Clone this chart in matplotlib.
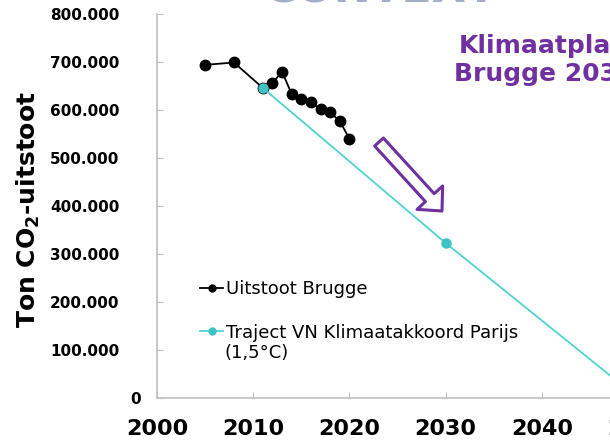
import matplotlib
matplotlib.use('Agg')
import matplotlib.pyplot as plt
from matplotlib.lines import Line2D
from matplotlib.patches import FancyArrowPatch
from matplotlib.ticker import FuncFormatter
import matplotlib.transforms as mtransforms

# data
years_brugge = [2005, 2008, 2011, 2012, 2013, 2014, 2015, 2016, 2017, 2018, 2019, 2020]
co2_brugge = [694000, 699000, 646000, 656000, 680000, 633000, 623000, 616000, 602000, 595000, 577000, 540000]
years_paris = [2011, 2030, 2050]
co2_paris = [646000, 323000, 0]
xticks = [2000, 2010, 2020, 2030, 2040, 2050]
yticks = [0, 100000, 200000, 300000, 400000, 500000, 600000, 700000, 800000]

purple = '#7030A0'
cyan = '#4FD2D2'
gray = '#C0C0C0'

fig = plt.figure(figsize=(6.1, 4.42), dpi=100)
W, H = 610, 442
# axes run past the right edge of the picture (reference is cropped)
ax = fig.add_axes([157 / W, 44 / H, (638 - 157) / W, (398 - 14) / H])

ax.plot(years_brugge, co2_brugge, color='black', lw=1.3, marker='o', ms=7.5, zorder=3)
ax.plot(years_paris, co2_paris, color=cyan, lw=1.3, zorder=4)
ax.plot(years_paris, co2_paris, ls='none', marker='o', ms=6.5,
        markerfacecolor='#3CC4C4', markeredgecolor='#3CC4C4', zorder=5)

ax.set_xlim(2000, 2050)
ax.set_ylim(0, 800000)
ax.set_xticks(xticks)
ax.set_yticks(yticks)
ax.yaxis.set_major_formatter(FuncFormatter(lambda v, p: f'{int(v):,}'.replace(',', '.')))

for s in ['top', 'right']:
    ax.spines[s].set_visible(False)
for s in ['left', 'bottom']:
    ax.spines[s].set_color(gray)
    ax.spines[s].set_linewidth(1.2)

ax.tick_params(axis='x', direction='in', length=4, color=gray, pad=15, labelsize=16)
ax.tick_params(axis='y', direction='in', length=4, color=gray, pad=27, labelsize=11)
for lab in ax.get_xticklabels() + ax.get_yticklabels():
    lab.set_fontweight('bold')

# zero label sits further right in the reference
fig.canvas.draw()
zero_lab = ax.get_yticklabels()[0]
zero_lab.set_transform(zero_lab.get_transform() +
                       mtransforms.ScaledTranslation(21 / 100, 0, fig.dpi_scale_trans))

fig.text(28 / W, 1 - 210 / H, r'Ton CO$_\mathbf{2}$-uitstoot', rotation=90,
         ha='center', va='center', fontsize=18, fontweight='bold')

handles = [Line2D([], [], color='black', lw=1.3, marker='o', ms=5),
           Line2D([], [], color=cyan, lw=1.3, marker='o', ms=5,
                  markerfacecolor='#3CC4C4', markeredgecolor='#3CC4C4')]
labels = ['Uitstoot Brugge', 'Traject VN Klimaatakkoord Parijs']
fig.legend(handles, labels, loc='upper left', bbox_to_anchor=(200 / W, 1 - 280 / H),
           frameon=False, fontsize=13, handlelength=1.3, handletextpad=0.12,
           labelspacing=1.42, borderpad=0, borderaxespad=0)
fig.text(225 / W, 1 - 353 / H, '(1,5°C)', ha='left', va='center', fontsize=13)

fig.text(544 / W, 1 - 60 / H, 'Klimaatplan\nBrugge 2030', ha='center', va='center',
         multialignment='center', fontsize=18, fontweight='bold', color=purple)

fig.text(380 / W, 1 - 2.5 / H, 'CONTEXT', ha='center', va='baseline',
         fontsize=32, fontweight='bold', color='#A3ADC7')

arrow = FancyArrowPatch((379 / W, 1 - 142 / H), (442 / W, 1 - 211 / H),
                        transform=fig.transFigure, shrinkA=0, shrinkB=0,
                        arrowstyle='simple,head_length=13,head_width=25,tail_width=8.5',
                        mutation_scale=1, facecolor='white', edgecolor=purple, lw=2.2)
fig.patches.append(arrow)

fig.savefig('out.png', dpi=100)
